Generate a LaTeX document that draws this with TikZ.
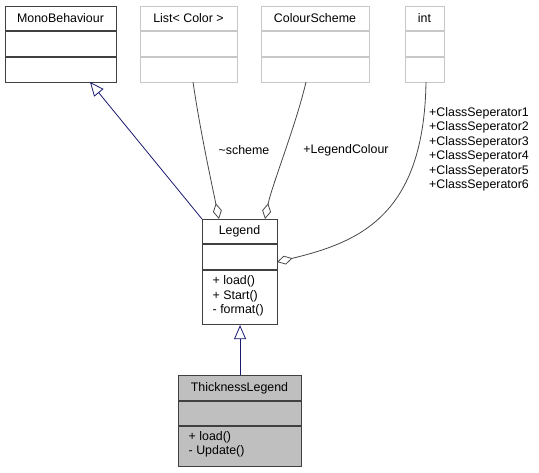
\documentclass[tikz,border=0pt]{standalone}
\usepackage{fontspec}
\setmainfont{Liberation Sans}
\usetikzlibrary{arrows.meta}

\definecolor{boxline}{RGB}{64,64,64}
\definecolor{paleline}{RGB}{200,200,200}
\definecolor{currentfill}{RGB}{191,191,191}
\definecolor{inheritblue}{RGB}{25,25,112}
\definecolor{edgegray}{RGB}{72,72,72}

\begin{document}
\begin{tikzpicture}[x=1pt,y=-1pt,
  font=\fontsize{12.4}{14.5}\selectfont,
  box/.style={anchor=north west, inner sep=0pt, line width=1.1pt},
  solidbox/.style={box, draw=boxline, fill=white},
  palebox/.style={box, draw=paleline, fill=white},
  curbox/.style={box, draw=boxline, fill=currentfill},
  divider/.style={line width=1.1pt},
  title/.style={inner sep=0pt, anchor=center},
  members/.style={inner sep=0pt, anchor=west, align=left},
  inherit/.style={draw=inheritblue, line width=0.8pt,
    -{Triangle[open, length=14pt, width=12pt, line width=0.8pt]}},
  aggreg/.style={draw=edgegray, line width=0.8pt,
    -{Diamond[open, length=16pt, width=9pt, line width=0.8pt]}},
  elabel/.style={inner sep=0pt, anchor=center, align=center},
]
\useasboundingbox (0,0) rectangle (539,472);

% ---- MonoBehaviour ----
\node[solidbox, minimum width=111pt, minimum height=76pt] (mono) at (5,6) {};
\draw[divider, boxline] (5,31) -- (116,31);
\draw[divider, boxline] (5,57) -- (116,57);
\node[title] (mono-name) at (60.5,18.5) {MonoBehaviour};

% ---- List< Color > ----
\node[palebox, minimum width=97pt, minimum height=76pt] (list) at (140,6) {};
\draw[divider, paleline] (140,31) -- (237,31);
\draw[divider, paleline] (140,57) -- (237,57);
\node[title] (list-name) at (188.5,18.5) {List< Color >};

% ---- ColourScheme ----
\node[palebox, minimum width=108pt, minimum height=76pt] (scheme) at (261,6) {};
\draw[divider, paleline] (261,31) -- (369,31);
\draw[divider, paleline] (261,57) -- (369,57);
\node[title] (scheme-name) at (315,18.5) {ColourScheme};

% ---- int ----
\node[palebox, minimum width=39pt, minimum height=76pt] (int) at (405,6) {};
\draw[divider, paleline] (405,31) -- (444,31);
\draw[divider, paleline] (405,57) -- (444,57);
\node[title] (int-name) at (424.5,18.5) {int};

% ---- Legend ----
\node[solidbox, minimum width=75pt, minimum height=105pt] (legend) at (202,219) {};
\draw[divider, boxline] (202,244) -- (277,244);
\draw[divider, boxline] (202,270) -- (277,270);
\node[title] (legend-name) at (239.5,231.5) {Legend};
\node[members] (legend-ops) at (212.5,296) {+ load()\\+ Start()\\- format()};

% ---- ThicknessLegend ----
\node[curbox, minimum width=123pt, minimum height=91pt] (thick) at (178,375) {};
\draw[divider, boxline] (178,401) -- (301,401);
\draw[divider, boxline] (178,426) -- (301,426);
\node[title] (thick-name) at (239.5,388) {ThicknessLegend};
\node[members] (thick-ops) at (188.5,444.5) {+ load()\\- Update()};

% ---- connector end points ----
\coordinate (mono-foot) at (90,82);
\coordinate (list-foot) at (193,82);
\coordinate (scheme-foot) at (306,82);
\coordinate (int-foot) at (426,82);
\coordinate (legend-top-l) at (219,219);
\coordinate (legend-top-r) at (265,219);
\coordinate (legend-side) at (277,262);

% ---- generalisations ----
\draw[inherit] (legend.north west) -- (mono-foot);
\draw[inherit] (thick.north) -- (legend.south);

% ---- aggregations ----
\draw[aggreg] (list-foot) .. controls (200,130) and (212,185) .. (legend-top-l);
\draw[aggreg] (scheme-foot) .. controls (296,125) and (272,185) .. (legend-top-r);
\draw[aggreg] (int-foot) .. controls (424,215) and (360,242) .. (legend-side);

% ---- role labels ----
\node[elabel] (lbl-scheme) at (244,150) {\textasciitilde scheme};
\node[elabel] (lbl-colour) at (346,150) {+LegendColour};
\node[elabel] (lbl-sep) at (479,149.5) {+ClassSeperator1\\+ClassSeperator2\\+ClassSeperator3\\+ClassSeperator4\\+ClassSeperator5\\+ClassSeperator6};
\end{tikzpicture}
\end{document}
